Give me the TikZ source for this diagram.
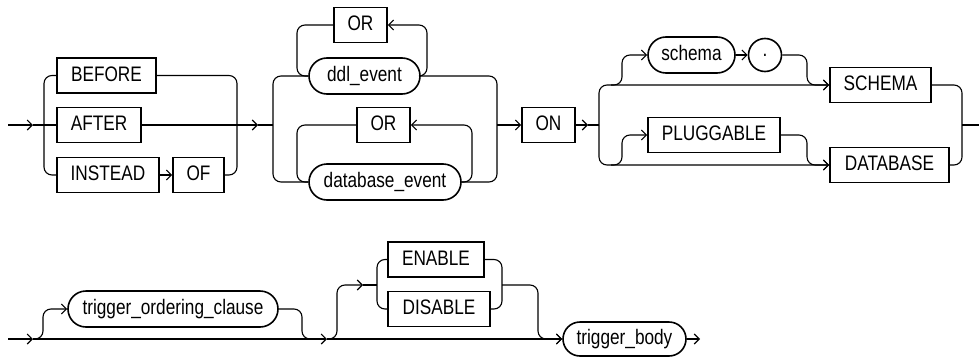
\documentclass[tikz,border=0pt]{standalone}
\usepackage{fontspec}
\setmainfont{Liberation Sans}[FakeStretch=0.82]
\usetikzlibrary{arrows.meta,shapes.misc}
\tikzset{
  kw/.style={draw, line width=1.6pt, rectangle, minimum height=35pt, inner sep=0pt,
    text height=15pt, text depth=4pt, font=\fontsize{21}{24}\selectfont},
  nt/.style={draw, line width=1.6pt, rounded rectangle, minimum height=36pt, inner sep=0pt,
    text height=15pt, text depth=4pt, font=\fontsize{21}{24}\selectfont},
  ln/.style={line width=1.1pt, rounded corners=8pt},
  arr/.style={-{Straight Barb[length=5pt,width=10pt]}}
}
\begin{document}
\begin{tikzpicture}[x=1pt,y=-1pt]
\useasboundingbox (0,0) rectangle (979,356);
% group 1
\node[kw, minimum width=99pt] (before) at (106.5,75.5) {BEFORE};
\node[kw, minimum width=84pt] (after) at (99,125) {AFTER};
\node[kw, minimum width=102pt] (instead) at (108,175) {INSTEAD};
\node[kw, minimum width=51pt] (of) at (198.5,175) {OF};
\coordinate (in1) at (8,125);
\coordinate (a1) at (33,125);
\draw[ln,arr] (in1) -- (a1);
\draw[ln] (a1) -- (after.west);
\draw[ln] (before.west) -- (44,75.5) -- (44,175) -- (instead.west);
\draw[ln,arr] (instead.east) -- (of.west);
\draw[ln] (before.east) -- (237,75.5) -- (237,175) -- (of.east);
\coordinate (a2) at (258,125);
\coordinate (r2) at (273,125);
\draw[ln,arr] (after.east) -- (a2);
\draw[ln] (a2) -- (r2);
% group 2
\node[kw, minimum width=53pt] (or1) at (360.5,25) {OR};
\node[nt, minimum width=111pt] (ddl) at (364.5,76) {ddl\_event};
\node[kw, minimum width=53pt] (or2) at (383.5,125) {OR};
\node[nt, minimum width=152pt] (dbe) at (385,182) {database\_event};
\draw[ln] (ddl.west) -- (273,76) -- (273,182) -- (dbe.west);
\draw[ln] (ddl.east) -- (497,76) -- (497,182) -- (dbe.east);
\draw[ln,arr] (ddl.east) -- (427,76) -- (427,25) -- (or1.east);
\draw[ln] (or1.west) -- (297,25) -- (297,76) -- (ddl.west);
\draw[ln,arr] (dbe.east) -- (472,182) -- (472,125) -- (or2.east);
\draw[ln] (or2.west) -- (297,125) -- (297,182) -- (dbe.west);
\node[kw, minimum width=53pt] (on) at (548.5,125) {ON};
\coordinate (r2b) at (497,125);
\draw[ln,arr] (r2b) -- (on.west);
\coordinate (a3) at (588,125);
\coordinate (j3) at (599,125);
\draw[ln,arr] (on.east) -- (a3);
\draw[ln] (a3) -- (j3);
% group 3
\node[nt, minimum width=87pt] (schema) at (691.5,55) {schema};
\node[draw, circle, line width=1.6pt, minimum size=33pt, inner sep=0pt,
  font=\fontsize{21}{24}\selectfont] (dot) at (765,55) {.};
\node[kw, minimum width=101pt] (SCH) at (880.5,85) {SCHEMA};
\node[kw, minimum width=132pt] (plug) at (714,135) {PLUGGABLE};
\node[kw, minimum width=119pt] (dbk) at (889.5,165) {DATABASE};
\draw[ln,arr] (j3) -- (599,85) -- (SCH.west);
\draw[ln,arr] (j3) -- (599,165) -- (dbk.west);
\draw[ln,arr] (611,85) -- (622,85) -- (622,55) -- (schema.west);
\draw[ln,arr] (schema.east) -- (dot.west);
\draw[ln,arr] (dot.east) -- (807,55) -- (807,85) -- (SCH.west);
\draw[ln,arr] (611,165) -- (622,165) -- (622,135) -- (plug.west);
\draw[ln,arr] (plug.east) -- (807,135) -- (807,165) -- (dbk.west);
\draw[ln] (SCH.east) -- (962,85) -- (962,165) -- (dbk.east);
\coordinate (r3) at (962,125);
\coordinate (out1) at (979,125);
\draw[ln] (r3) -- (out1);
% bottom row
\node[nt, minimum width=210pt] (toc) at (173,309) {trigger\_ordering\_clause};
\node[kw, minimum width=96pt] (en) at (436,259.5) {ENABLE};
\node[kw, minimum width=102pt] (dis) at (439,309) {DISABLE};
\node[nt, minimum width=123pt, minimum height=34pt] (tb) at (624.5,339) {trigger\_body};
\coordinate (s2) at (8,339);
\coordinate (b1) at (33,339);
\coordinate (b2) at (327,339);
\coordinate (out2) at (700,339);
\draw[ln,arr] (s2) -- (b1);
\draw[ln,arr] (b1) -- (b2);
\draw[ln,arr] (b2) -- (tb.west);
\draw[ln,arr] (tb.east) -- (out2);
\draw[ln,arr] (b1) -- (43,339) -- (43,309) -- (toc.west);
\draw[ln] (toc.east) -- (302,309) -- (302,339) -- (316,339);
\coordinate (a4) at (363,285);
\coordinate (j4) at (377,285);
\draw[ln,arr] (b2) -- (337,339) -- (337,285) -- (a4);
\draw[ln] (a4) -- (j4);
\draw[ln] (en.west) -- (377,259.5) -- (377,309) -- (dis.west);
\draw[ln] (en.east) -- (502,259.5) -- (502,309) -- (dis.east);
\coordinate (j5) at (502,285);
\draw[ln,arr] (j5) -- (538,285) -- (538,339) -- (tb.west);
\end{tikzpicture}
\end{document}
